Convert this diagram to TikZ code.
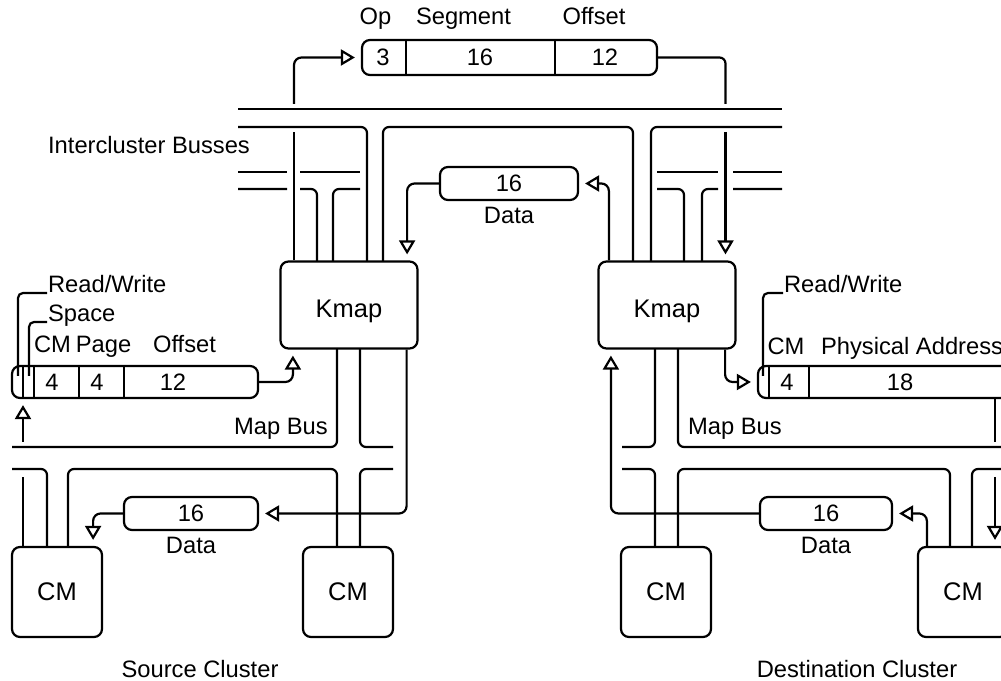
\documentclass[tikz,border=0pt]{standalone}
\usepackage{fontspec}
\setmainfont{Liberation Sans}
\usetikzlibrary{arrows.meta}

\tikzset{
  kbox/.style={draw,rounded corners=1.6mm,minimum width=2.74cm,minimum height=1.74cm,
    inner sep=0pt,font=\fontsize{14.5}{17}\selectfont},
  cmbox/.style={kbox,minimum width=1.8cm,minimum height=1.8cm},
  reg/.style={draw,rounded corners=1.6mm,minimum height=0.66cm,inner sep=0pt},
  lbl/.style={inner sep=0pt},
  flow/.style={-{Triangle[open,length=2.8mm,width=3.2mm]},shorten >=1.2mm,rounded corners=1.5mm},
  bus/.style={rounded corners=1.2mm},
  hook/.style={rounded corners=1mm},
}

\begin{document}
\begin{tikzpicture}[font=\fontsize{13.5}{16}\selectfont,line width=1.25pt]
  \useasboundingbox (0,0) rectangle (20.02,13.62);
  \clip (0,0) rectangle (20.02,13.62);

  % intercluster message
  \node[reg,minimum width=5.9cm,minimum height=0.7cm] (msg) at (10.19,12.47) {};
  \foreach \x in {8.12,11.1} \draw (\x,12.12) -- (\x,12.82);
  \node (opN) at (7.66,12.47) {3};
  \node (segN) at (9.6,12.47) {16};
  \node (offN) at (12.1,12.47) {12};
  \node[lbl,anchor=base] (opL) at (7.51,13.12) {Op};
  \node[lbl,anchor=base] (segL) at (9.27,13.12) {Segment};
  \node[lbl,anchor=base] (offL) at (11.88,13.12) {Offset};

  % intercluster busses
  \node (icbL) at (2.98,10.72) {Intercluster Busses};
  \draw (4.76,11.44) -- (15.64,11.44);
  \draw[bus] (4.76,11.08) -| (7.34,8.38);
  \draw[bus] (7.66,8.38) |- (12.66,11.08) -- (12.66,8.38);
  \draw[bus] (13.02,8.38) |- (15.64,11.08);
  \draw (4.76,10.18) -- (5.74,10.18) (6.0,10.18) -- (7.2,10.18);
  \draw[bus] (4.76,9.84) -- (5.74,9.84) (6.0,9.84) -| (6.34,8.38) (6.66,8.38) |- (7.2,9.84);
  \draw (13.14,10.18) -- (14.36,10.18) (14.66,10.18) -- (15.64,10.18);
  \draw[bus] (13.14,9.84) -| (13.68,8.38) (14.04,8.38) |- (14.36,9.84) (14.66,9.84) -- (15.64,9.84);

  % kmaps and cms
  \node[kbox,text height=14.8pt,text depth=0pt] (kmapL) at (6.98,7.52) {Kmap};
  \node[kbox,text height=14.8pt,text depth=0pt] (kmapR) at (13.34,7.52) {Kmap};
  \node[cmbox] (cmA) at (1.14,1.78) {CM};
  \node[cmbox] (cmB) at (6.96,1.78) {CM};
  \node[cmbox] (cmC) at (13.32,1.78) {CM};
  \node[cmbox] (cmD) at (19.26,1.78) {CM};
  \node (srcL) at (4.0,0.24) {Source Cluster};
  \node (dstL) at (17.14,0.24) {Destination Cluster};

  % map busses
  \node[lbl,anchor=base] (mbusL) at (5.62,4.92) {Map Bus};
  \node[lbl,anchor=base] (mbusR) at (14.7,4.92) {Map Bus};
  \draw[bus] (0.24,4.68) -| (6.74,6.65) (7.2,6.65) |- (7.86,4.68);
  \draw[bus] (0.24,4.24) -| (0.94,2.68) (1.36,2.68) |- (6.74,4.24) -- (6.74,2.68)
    (7.2,2.68) |- (7.86,4.24);
  \draw[bus] (12.44,4.68) -| (13.1,6.65) (13.56,6.65) |- (20.2,4.68);
  \draw[bus] (12.44,4.24) -| (13.1,2.68) (13.56,2.68) |- (19.0,4.24) -- (19.0,2.68)
    (19.44,2.68) |- (20.2,4.24);

  % source address
  \node[reg,minimum width=4.92cm,minimum height=0.64cm] (addrL) at (2.7,5.98) {};
  \foreach \x in {0.46,0.68,1.58,2.48} \draw (\x,5.66) -- (\x,6.3);
  \node (cmN) at (1.04,5.98) {4};
  \node (pageN) at (1.94,5.98) {4};
  \node (offsN) at (3.46,5.98) {12};
  \node[lbl,anchor=base] (cmLb) at (1.05,6.56) {CM};
  \node[lbl,anchor=base] (pageLb) at (2.07,6.56) {Page};
  \node[lbl,anchor=base] (offsLb) at (3.69,6.56) {Offset};
  \node[lbl,anchor=base west] (rwL) at (0.94,7.76) {Read/Write};
  \node[lbl,anchor=base west] (spL) at (0.94,7.18) {Space};
  \draw[hook] (0.36,6.1) |- (rwL.base west);
  \draw[hook] (0.58,6.1) |- (spL.base west);

  % destination address
  \node[reg,minimum width=5.44cm,minimum height=0.64cm] (addrR) at (17.88,5.98) {};
  \foreach \x in {15.38,16.18} \draw (\x,5.66) -- (\x,6.3);
  \node (cmRN) at (15.74,5.98) {4};
  \node (physN) at (18.0,5.98) {18};
  \node[lbl,anchor=base] (cmRb) at (15.72,6.52) {CM};
  \node[lbl,anchor=base west] (physL) at (16.4,6.52) {Physical Address};
  \node[lbl,anchor=base west] (rwR) at (15.66,7.76) {Read/Write};
  \draw[hook] (15.26,6.1) |- (rwR.base west);

  % data words
  \node[reg,minimum width=2.76cm] (dataT) at (10.18,9.95) {16};
  \node (dataTl) at (10.18,9.32) {Data};
  \node[reg,minimum width=2.68cm] (dataL) at (3.82,3.35) {16};
  \node (dataLl) at (3.82,2.72) {Data};
  \node[reg,minimum width=2.64cm] (dataR) at (16.52,3.35) {16};
  \node (dataRl) at (16.52,2.72) {Data};

  % crossings
  \coordinate (icbLtop) at (5.88,11.54);
  \coordinate (icbLbot) at (5.88,10.98);
  \coordinate (icbRtop) at (14.51,11.54);
  \coordinate (icbRbot) at (14.51,10.98);
  \coordinate (mbLtop) at (0.46,4.78);
  \coordinate (mbLbot) at (0.46,4.08);
  \coordinate (mbRtop) at (19.9,4.78);
  \coordinate (mbRbot) at (19.9,4.08);

  \draw (kmapL.north -| icbLbot) -- (icbLbot);
  \draw[flow] (icbLtop) |- (msg.west);
  \draw[bus] (msg.east) -| (icbRtop);
  \draw[flow] (icbRbot) -- (kmapR.north -| icbRbot);
  \draw (cmA.north -| mbLbot) -- (mbLbot);
  \draw[flow] (mbLtop) -- (addrL.south -| mbLtop);
  \draw (addrR.south -| mbRtop) -- (mbRtop);
  \draw[flow] (mbRbot) -- (cmD.north -| mbRbot);

  \draw[flow] (dataT.west) -| ([xshift=-2.3mm]kmapL.north east);
  \draw[flow] ([xshift=2.3mm]kmapR.north west) |- (dataT.east);
  \draw[flow] (addrL.east) -| ([xshift=2.7mm]kmapL.south west);
  \draw[flow] ([xshift=-2.4mm]kmapL.south east) |- (dataL.east);
  \draw[flow] (dataL.west) -| ([xshift=-2mm]cmA.north east);
  \draw[flow] ([xshift=-2.3mm]kmapR.south east) |- (addrR.west);
  \draw[flow] (dataR.west) -| ([xshift=2.7mm]kmapR.south west);
  \draw[flow] ([xshift=2mm]cmD.north west) |- (dataR.east);
\end{tikzpicture}
\end{document}
